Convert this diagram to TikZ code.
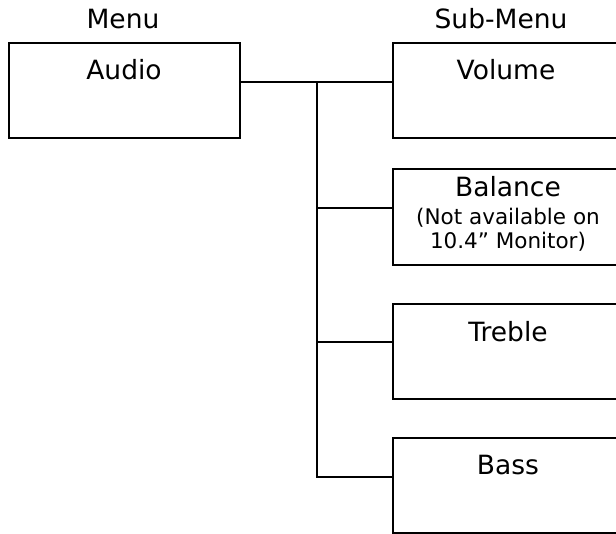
\documentclass[tikz,border=0pt]{standalone}
\usepackage{fontspec}
\setmainfont{DejaVu Sans}
\begin{document}
\begin{tikzpicture}[x=1pt,y=-1pt,
  box/.style={draw, line width=2pt, inner sep=0pt, outer sep=0pt},
  wire/.style={line width=2pt},
  lbl/.style={font=\fontsize{26.5}{30}\selectfont, anchor=base, inner sep=0pt},
  small/.style={font=\fontsize{21.5}{25}\selectfont, anchor=base, inner sep=0pt}]
\useasboundingbox (0,0) rectangle (616,534);
\clip (0,0) rectangle (616,534);
% boxes
\node[box, minimum width=231pt, minimum height=95pt] (audio) at (124.5,90.5) {};
\node[box, minimum width=247pt, minimum height=95pt] (volume) at (516.5,90.5) {};
\node[box, minimum width=247pt, minimum height=96pt] (balance) at (516.5,217) {};
\node[box, minimum width=247pt, minimum height=95pt] (treble) at (516.5,351.5) {};
\node[box, minimum width=247pt, minimum height=95pt] (bass) at (516.5,485.5) {};
% headings
\node[lbl] (menu) at (123,29) {Menu};
\node[lbl] (submenu) at (501,29) {Sub-Menu};
% texts
\node[lbl] (taudio) at (124,80) {Audio};
\node[lbl] (tvolume) at (506,80) {Volume};
\node[lbl] (tbalance) at (508,197) {Balance};
\node[small] (tnote1) at (508,225) {(Not available on};
\node[small] (tnote2) at (508,249) {10.4” Monitor)};
\node[lbl] (ttreble) at (508,342) {Treble};
\node[lbl] (tbass) at (508,475) {Bass};
% connectors
\coordinate (j1) at (317,82);
\coordinate (j2) at (317,208);
\coordinate (j3) at (317,342);
\coordinate (j4) at (317,477);
\draw[wire] (audio.east |- j1) -- (volume.west |- j1);
\draw[wire] (j1) -- (j4) -- (bass.west |- j4);
\draw[wire] (j2) -- (balance.west |- j2);
\draw[wire] (j3) -- (treble.west |- j3);
\end{tikzpicture}
\end{document}
